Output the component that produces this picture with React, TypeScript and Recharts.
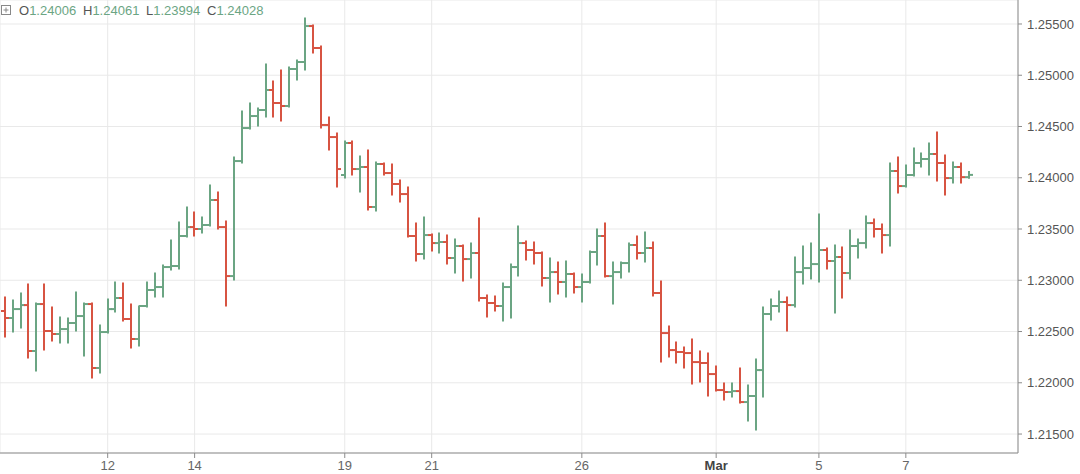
import React from "react";
import { ComposedChart, Bar, XAxis, YAxis, CartesianGrid } from "recharts";

// OHLC values, one entry per bar
const opens = [
  1.227, 1.22632, 1.22719, 1.22758, 1.2231, 1.22768, 1.22505, 1.22476, 1.22524, 1.22583,
  1.22651, 1.22768, 1.22144, 1.22495, 1.22719, 1.22827, 1.22622, 1.22427, 1.22749, 1.22905,
  1.22934, 1.23129, 1.23139, 1.23432, 1.23519, 1.235, 1.23539, 1.23783, 1.23519, 1.23041,
  1.24163, 1.24485, 1.24602, 1.24661, 1.24856, 1.24729, 1.247, 1.25061, 1.25129, 1.2548,
  1.25266, 1.24515, 1.24397, 1.24027, 1.24339, 1.24085, 1.24105, 1.23715, 1.24134, 1.24046,
  1.23939, 1.23841, 1.23432, 1.23256, 1.23441, 1.23363, 1.23373, 1.23217, 1.23334, 1.23207,
  1.23266, 1.22827, 1.22778, 1.22749, 1.22934, 1.23129, 1.23363, 1.23295, 1.23266, 1.23022,
  1.2308, 1.22983, 1.23061, 1.22934, 1.22983, 1.23276, 1.23432, 1.23041, 1.2308, 1.23168,
  1.23344, 1.23266, 1.23315, 1.22876, 1.22485, 1.22319, 1.223, 1.2229, 1.22202, 1.22193,
  1.22085, 1.21929, 1.2191, 1.21919, 1.21812, 1.21871, 1.22124, 1.22671, 1.22749, 1.22788,
  1.22758, 1.2308, 1.23119, 1.23158, 1.23295, 1.23188, 1.23227, 1.23071, 1.23334, 1.23363,
  1.23558, 1.235, 1.23441, 1.24066, 1.23919, 1.24027, 1.24144, 1.24183, 1.24232, 1.24144,
  1.23997, 1.24105, 1.24006,
];
const highs = [
  1.22837, 1.22807, 1.22876, 1.22963, 1.22778, 1.22963, 1.22739, 1.22641, 1.22632, 1.22885,
  1.22778, 1.22778, 1.22563, 1.22817, 1.22983, 1.22973, 1.22768, 1.22749, 1.22983, 1.23071,
  1.23149, 1.23393, 1.23568, 1.23715, 1.23666, 1.23617, 1.23929, 1.23861, 1.23578, 1.24202,
  1.24651, 1.24729, 1.2468, 1.2511, 1.24944, 1.25051, 1.2508, 1.25149, 1.25558, 1.2549,
  1.25285, 1.24593, 1.24437, 1.24358, 1.24358, 1.24212, 1.24271, 1.24154, 1.24144, 1.24134,
  1.23978, 1.2391, 1.23558, 1.23617, 1.23451, 1.23461, 1.23441, 1.23402, 1.23344, 1.23363,
  1.23607, 1.22856, 1.22846, 1.22973, 1.23158, 1.23529, 1.23383, 1.23373, 1.23276, 1.23217,
  1.23178, 1.23188, 1.23071, 1.23061, 1.23285, 1.235, 1.23558, 1.23178, 1.23178, 1.23363,
  1.23432, 1.23471, 1.23373, 1.22993, 1.22554, 1.22397, 1.22349, 1.22427, 1.2231, 1.2229,
  1.22163, 1.21998, 1.21998, 1.22144, 1.21978, 1.22232, 1.22739, 1.22817, 1.22895, 1.22837,
  1.23227, 1.23334, 1.23363, 1.23646, 1.23315, 1.23344, 1.23324, 1.2349, 1.23402, 1.23627,
  1.23597, 1.23549, 1.24144, 1.24202, 1.24124, 1.2429, 1.24241, 1.24339, 1.24446, 1.24222,
  1.24154, 1.24144, 1.24061,
];
const lows = [
  1.22446, 1.22495, 1.22534, 1.22241, 1.22115, 1.22319, 1.22407, 1.22388, 1.22388, 1.22505,
  1.22261, 1.22046, 1.22095, 1.22485, 1.2269, 1.22602, 1.22339, 1.22358, 1.22739, 1.22837,
  1.22837, 1.231, 1.2311, 1.23422, 1.23432, 1.23461, 1.23529, 1.235, 1.22749, 1.23002,
  1.24144, 1.24476, 1.24505, 1.24593, 1.24593, 1.24554, 1.2469, 1.24954, 1.25051, 1.25217,
  1.24485, 1.24271, 1.2391, 1.23997, 1.24027, 1.23861, 1.23685, 1.23676, 1.24027, 1.23832,
  1.23763, 1.23422, 1.23188, 1.23207, 1.23285, 1.23266, 1.23158, 1.23071, 1.22993, 1.23022,
  1.22797, 1.22641, 1.227, 1.22602, 1.22632, 1.23041, 1.23197, 1.23158, 1.22944, 1.22788,
  1.22866, 1.22837, 1.22876, 1.22788, 1.22973, 1.23149, 1.23032, 1.22768, 1.23022, 1.2308,
  1.23207, 1.23178, 1.22846, 1.22202, 1.22251, 1.22193, 1.22144, 1.21988, 1.22007, 1.21871,
  1.21919, 1.21832, 1.21861, 1.21802, 1.21627, 1.21539, 1.21861, 1.22612, 1.2269, 1.22505,
  1.22739, 1.22963, 1.23012, 1.22983, 1.2311, 1.2268, 1.22827, 1.23012, 1.23217, 1.23315,
  1.23422, 1.23266, 1.23334, 1.23851, 1.2391, 1.24017, 1.24105, 1.24027, 1.23968, 1.23832,
  1.23949, 1.23949, 1.23994,
];
const closes = [
  1.22632, 1.22719, 1.22758, 1.2231, 1.22768, 1.22505, 1.22476, 1.22524, 1.22583, 1.22651,
  1.22768, 1.22144, 1.22495, 1.22719, 1.22827, 1.22622, 1.22427, 1.22749, 1.22905, 1.22934,
  1.23129, 1.23139, 1.23432, 1.23519, 1.235, 1.23539, 1.23783, 1.23519, 1.23041, 1.24163,
  1.24485, 1.24602, 1.24661, 1.24856, 1.24729, 1.247, 1.25061, 1.25129, 1.2548, 1.25266,
  1.24515, 1.24397, 1.24085, 1.24339, 1.24085, 1.24105, 1.23715, 1.24134, 1.24046, 1.23939,
  1.23841, 1.23432, 1.23256, 1.23441, 1.23363, 1.23373, 1.23217, 1.23334, 1.23207, 1.23266,
  1.22827, 1.22778, 1.22749, 1.22934, 1.23129, 1.23363, 1.23295, 1.23266, 1.23022, 1.2308,
  1.22983, 1.23061, 1.22934, 1.22983, 1.23276, 1.23432, 1.23041, 1.2308, 1.23168, 1.23344,
  1.23266, 1.23315, 1.22876, 1.22485, 1.22319, 1.223, 1.2229, 1.22202, 1.22193, 1.22085,
  1.21929, 1.2191, 1.21919, 1.21812, 1.21871, 1.22124, 1.22671, 1.22749, 1.22788, 1.22758,
  1.2308, 1.23119, 1.23158, 1.23295, 1.23188, 1.23227, 1.23071, 1.23334, 1.23363, 1.23558,
  1.235, 1.23441, 1.24066, 1.23919, 1.24027, 1.24144, 1.24183, 1.24232, 1.24144, 1.23997,
  1.24105, 1.24006, 1.24028,
];

// bar index where each day label sits
const dayTicks = [13, 24, 43, 54, 73, 90, 103, 114];
const dayLabels = ["12", "14", "19", "21", "26", "Mar", "5", "7"];
const priceTicks = [1.215, 1.22, 1.225, 1.23, 1.235, 1.24, 1.245, 1.25, 1.255];

const UP = "#6ba583";
const DOWN = "#d75442";
const FONT = "'Liberation Sans', Arial, sans-serif";

const data = opens.map((o, i) => ({
  i,
  open: o,
  high: highs[i],
  low: lows[i],
  close: closes[i],
  range: [lows[i], highs[i]],
}));

const last = data[data.length - 1];

function OhlcBar(props: any) {
  const { x, y, width, height, payload } = props;
  if (!payload) return null;
  const { open, close, high, low } = payload;
  const top = Math.min(y, y + height);
  const h = Math.abs(height);
  const cx = Math.round(x + width / 2);
  const span = high - low || 1;
  const py = (v: number) => top + ((high - v) / span) * h;
  const color = close >= open ? UP : DOWN;
  return (
    <g stroke={color} strokeWidth={2}>
      <line x1={cx} x2={cx} y1={top - 0.5} y2={top + h + 0.5} />
      <line x1={cx - 4} x2={cx} y1={py(open)} y2={py(open)} />
      <line x1={cx} x2={cx + 4} y1={py(close)} y2={py(close)} />
    </g>
  );
}

function DayTick(props: any) {
  const { x, y, payload } = props;
  const idx = dayTicks.indexOf(payload.value);
  if (idx < 0) return null;
  const label = dayLabels[idx];
  const bold = label === "Mar";
  return (
    <text
      x={x}
      y={y + 10}
      textAnchor="middle"
      fontSize={13}
      fontFamily={FONT}
      fontWeight={bold ? 700 : 400}
      fill={bold ? "#444" : "#666"}
    >
      {label}
    </text>
  );
}

function Legend() {
  const item = (letter: string, value: number, left: number) => (
    <span style={{ position: "absolute", left, top: 3, whiteSpace: "nowrap" }}>
      <span style={{ color: "#555" }}>{letter}</span>
      <span style={{ color: UP }}>{value.toFixed(5)}</span>
    </span>
  );
  return (
    <div style={{ position: "absolute", left: 0, top: 0, fontFamily: FONT, fontSize: 13 }}>
      <svg width={12} height={12} style={{ position: "absolute", left: 1, top: 5 }}>
        <rect x={0.5} y={0.5} width={9} height={9} fill="none" stroke="#888" />
        <line x1={2.5} x2={7.5} y1={5} y2={5} stroke="#888" />
        <line x1={5} x2={5} y1={2.5} y2={7.5} stroke="#888" />
      </svg>
      {item("O", last.open, 19)}
      {item("H", last.high, 83)}
      {item("L", last.low, 146)}
      {item("C", last.close, 207)}
    </div>
  );
}

export default function App() {
  return (
    <div style={{ position: "absolute", left: 0, top: 0, width: 1080, height: 474, background: "#fff" }}>
      <ComposedChart width={1080} height={474} data={data} margin={{ top: 0, right: 0, bottom: 0, left: 0 }}>
        <CartesianGrid stroke="#e9e9e9" />
        <XAxis
          dataKey="i"
          type="category"
          ticks={dayTicks}
          interval={0}
          height={21}
          padding={{ left: 1, right: 45 }}
          axisLine={{ stroke: "#8c8c8c" }}
          tickLine={{ stroke: "#8c8c8c" }}
          tickSize={5}
          tick={<DayTick />}
        />
        <YAxis
          orientation="right"
          type="number"
          width={62}
          domain={[1.21315, 1.25734]}
          allowDataOverflow
          ticks={priceTicks}
          tickFormatter={(v: number) => v.toFixed(5)}
          axisLine={{ stroke: "#8c8c8c" }}
          tickLine={{ stroke: "#8c8c8c" }}
          tickSize={4}
          tickMargin={5}
          tick={{ fill: "#555", fontSize: 13, fontFamily: FONT }}
        />
        <Bar dataKey="range" shape={<OhlcBar />} isAnimationActive={false} />
      </ComposedChart>
      <Legend />
    </div>
  );
}
